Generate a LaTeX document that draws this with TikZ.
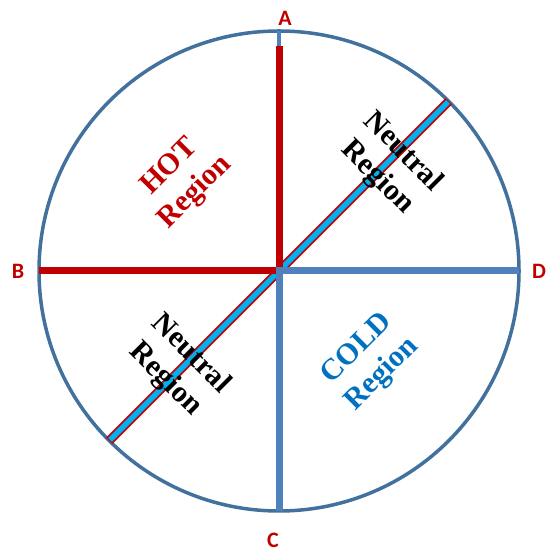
\documentclass[tikz,border=0pt]{standalone}
\usepackage{fontspec}
\setmainfont{Liberation Serif}
\newfontfamily\letterfont{Carlito}
\usetikzlibrary{calc}
\definecolor{hotred}{HTML}{C00000}
\definecolor{coldblue}{HTML}{4F81BD}
\definecolor{ringblue}{HTML}{41719C}
\definecolor{textblue}{HTML}{0070C0}
\definecolor{neutralcyan}{HTML}{00B0F0}

\begin{document}
\begin{tikzpicture}[
    x=1pt, y=1pt,
    region/.style={align=center, font=\fontsize{30}{36}\selectfont\bfseries},
    letter/.style={text=hotred, font=\letterfont\fontsize{22}{24}\selectfont\bfseries},
    hotline/.style={draw=hotred, line width=7pt},
    coldline/.style={draw=coldblue, line width=7pt}
]
\useasboundingbox (0,0) rectangle (548,553);
\coordinate (center) at (279,282);
\node (ring) [circle, draw=ringblue, line width=3.5pt, minimum size=480pt, inner sep=0pt, outer sep=0pt] at (center) {};
\coordinate (top_red) at ($(ring.north)+(0,-15)$);

% neutral diagonal
\draw[draw=hotred, line width=9pt] (ring.225) -- (ring.45);
\draw[draw=neutralcyan, line width=5.5pt, shorten <=1pt, shorten >=1pt] (ring.225) -- (ring.45);

% hot half lines
\draw[hotline] (center) -- (top_red);
\draw[draw=coldblue, line width=4pt] (top_red) -- (ring.north);
\draw[hotline] (center) -- (ring.west);

% cold half lines
\draw[coldline] ($(center)+(0,3.5)$) -- (ring.south);
\draw[coldline] (center) -- (ring.east);

\node (label_a) [letter] at (285,535) {A};
\node (label_b) [letter] at (18,282) {B};
\node (label_c) [letter] at (273,13) {C};
\node (label_d) [letter] at (539,282) {D};

\node (hot_region) [region, text=hotred, rotate=45] at (183,373) {HOT\\Region};
\node (cold_region) [region, text=textblue, rotate=45] at (370,191) {COLD\\Region};
\node (neutral_top) [region, rotate=-45] at (390,388) {Neutral\\Region};
\node (neutral_bottom) [region, rotate=-45] at (178,186) {Neutral\\Region};
\end{tikzpicture}
\end{document}
